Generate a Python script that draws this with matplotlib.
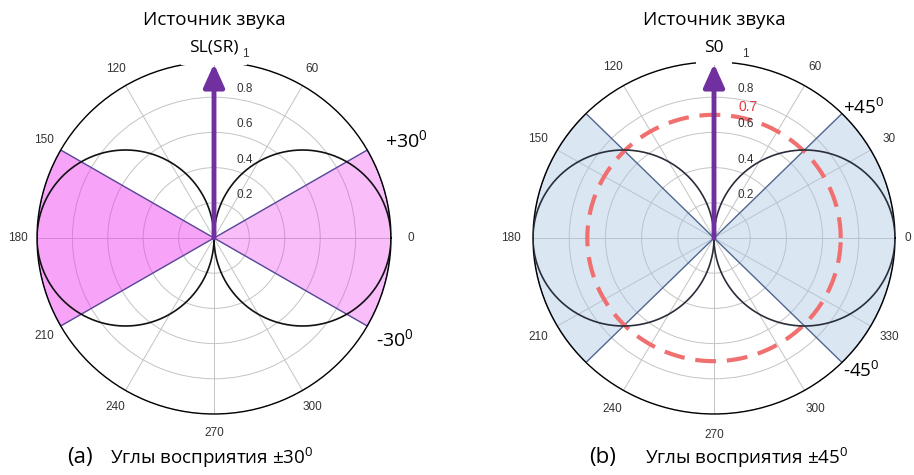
import numpy as np
import matplotlib.pyplot as plt

plt.rcParams['font.family'] = ['Liberation Sans', 'DejaVu Sans']
TEXT_FONT = ['Open Sans', 'DejaVu Sans']

# сетка полярных диаграмм
angle_ticks = [0, 30, 60, 90, 120, 150, 180, 210, 240, 270, 300, 330]
r_ticks = [0.2, 0.4, 0.6, 0.8, 1.0]
r_labels = ['0.2', '0.4', '0.6', '0.8', '1']

# (a) стерео SL(SR), углы восприятия ±30
half_angle_a = 30
hidden_angles_a = [30, 90, 330]
# (b) моно S0, углы восприятия ±45, уровень 0.7
half_angle_b = 45
hidden_angles_b = [0, 90]
s0_level = 0.7

DEG = r'$^\mathregular{0}$'


def pattern(theta):
    # диаграмма направленности "восьмёрка"
    return np.abs(np.cos(theta))


def sector(ax, center, half, face, alpha, edge):
    t = np.radians(np.linspace(center - half, center + half, 121))
    th = np.concatenate([[0], t, [0]])
    rr = np.concatenate([[0], np.ones_like(t), [0]])
    ax.fill(th, rr, facecolor=face, alpha=alpha, edgecolor='none', zorder=2)
    ax.plot(th, rr, color=edge, lw=1.0, zorder=2.2)


def setup(ax, hidden, r_angle_lbl=1.11):
    ax.set_ylim(0, 1)
    ax.set_xticks(np.radians(angle_ticks))
    ax.set_xticklabels([])
    ax.set_yticks(r_ticks)
    ax.set_yticklabels([])
    ax.grid(color='#c4c4c4', lw=0.7)
    ax.spines['polar'].set_color('black')
    ax.spines['polar'].set_linewidth(1.0)
    for a in angle_ticks:
        if a in hidden:
            continue
        ax.text(np.radians(a), r_angle_lbl, str(a), ha='center', va='center',
                fontsize=8.5, color='#333333', clip_on=False)
    for r, lbl in zip(r_ticks, r_labels):
        x, y = 0.175, r + 0.045
        ax.text(np.arctan2(y, x), np.hypot(x, y), lbl, ha='center', va='center',
                fontsize=8.5, color='#333333', zorder=6, clip_on=False)


def lobes_and_arrow(ax, src_label, lobe_color):
    theta = np.linspace(0, 2 * np.pi, 721)
    ax.plot(theta, pattern(theta), color=lobe_color, lw=1.2, zorder=3)
    ax.text(np.pi / 2, 1.08, src_label, ha='center', va='center', fontsize=12.5,
            family=TEXT_FONT, clip_on=False, zorder=4,
            bbox=dict(boxstyle='square,pad=0.5', fc='white', ec='none'))
    ax.annotate('', xy=(np.pi / 2, 0.99), xytext=(np.pi / 2, 0),
                arrowprops=dict(arrowstyle='-|>,head_width=0.45,head_length=1.0',
                                color='#7030a0', lw=3.5, mutation_scale=14,
                                shrinkA=0, shrinkB=0), zorder=5)


W, H = 914, 475
fig = plt.figure(figsize=(W / 100, H / 100), dpi=100)


def rect(cx, cy, rx, ry):
    return [(cx - rx) / W, 1 - (cy + ry) / H, 2 * rx / W, 2 * ry / H]


# (a)
ax1 = fig.add_axes(rect(214, 238, 177, 176), projection='polar')
ax1.set_aspect('auto')
setup(ax1, hidden_angles_a)
sector(ax1, 0, half_angle_a, '#ee33ee', 0.32, '#5a4a9c')
sector(ax1, 180, half_angle_a, '#ee33ee', 0.45, '#5a4a9c')
lobes_and_arrow(ax1, 'SL(SR)', '#111111')

# (b)
ax2 = fig.add_axes(rect(714, 238, 181, 176), projection='polar')
ax2.set_aspect('auto')
setup(ax2, hidden_angles_b, r_angle_lbl=1.12)
sector(ax2, 0, half_angle_b, '#aac4e4', 0.42, '#50668f')
sector(ax2, 180, half_angle_b, '#aac4e4', 0.42, '#50668f')
theta = np.linspace(0, 2 * np.pi, 721)
ax2.plot(theta, np.full_like(theta, s0_level), color='#f07070', lw=3,
         dashes=(5, 2.6), zorder=2.6)
ax2.text(np.arctan2(s0_level + 0.045, 0.19), np.hypot(0.19, s0_level + 0.045),
         '0.7', ha='center', va='center', fontsize=10, color='#e8343c',
         zorder=6, clip_on=False)
lobes_and_arrow(ax2, 'S0', '#2a2e3a')
# подпись 0° у правого края
fig.text(908 / W, 1 - 238 / H, '0', ha='center', va='center', fontsize=8.5,
         color='#333333')

# подписи
for cx in (214, 714):
    fig.text(cx / W, 1 - 20 / H, 'Источник звука', ha='center', va='center',
             fontsize=13.5, family=TEXT_FONT)

fig.text(406 / W, 1 - 141 / H, '+30' + DEG, ha='center', va='center', fontsize=14, family=TEXT_FONT)
fig.text(395 / W, 1 - 340 / H, '-30' + DEG, ha='center', va='center', fontsize=14, family=TEXT_FONT)
fig.text(864 / W, 1 - 108 / H, '+45' + DEG, ha='center', va='center', fontsize=13.5, family=TEXT_FONT)
fig.text(861 / W, 1 - 371 / H, '-45' + DEG, ha='center', va='center', fontsize=13.5, family=TEXT_FONT)

fig.text(67 / W, 1 - 458 / H, '(a)', ha='left', va='center', fontsize=16, family=TEXT_FONT)
fig.text(110 / W, 1 - 458 / H, 'Углы восприятия ±30' + DEG, ha='left', va='center',
         fontsize=13.5, family=TEXT_FONT)
fig.text(589 / W, 1 - 458 / H, '(b)', ha='left', va='center', fontsize=16, family=TEXT_FONT)
fig.text(645 / W, 1 - 458 / H, 'Углы восприятия ±45' + DEG, ha='left', va='center',
         fontsize=13.5, family=TEXT_FONT)

fig.savefig('out.png', dpi=100, facecolor='white')
